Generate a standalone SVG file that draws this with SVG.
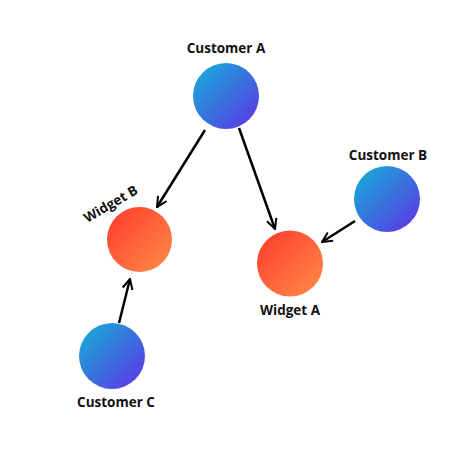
<svg xmlns="http://www.w3.org/2000/svg" width="474" height="474" viewBox="0 0 474 474">
<defs>
<linearGradient id="gBlue" x1="0" y1="0" x2="1" y2="1">
<stop offset="0" stop-color="#12b4d6"/>
<stop offset="1" stop-color="#6030e8"/>
</linearGradient>
<linearGradient id="gRed" x1="0" y1="0" x2="1" y2="1">
<stop offset="0" stop-color="#ff3a2c"/>
<stop offset="1" stop-color="#ff8c48"/>
</linearGradient>
<marker id="arr" viewBox="0 0 10 10" refX="9" refY="5" markerWidth="5" markerHeight="5" orient="auto" markerUnits="strokeWidth">
<polyline points="1,1 9,5 1,9" fill="none" stroke="#000" stroke-width="1.6" stroke-linejoin="miter" stroke-linecap="butt"/>
</marker>
<style>
.lbl{font-family:"Open Sans","Liberation Sans",sans-serif;font-weight:bold;font-size:13.5px;fill:#111;text-anchor:middle}
.edge{stroke:#000;stroke-width:2.5;fill:none;marker-end:url(#arr)}
</style>
</defs>
<rect width="474" height="474" fill="#fff"/>
<g id="connectors">
<line class="edge" x1="205" y1="130" x2="157" y2="207"/>
<line class="edge" x1="239" y1="128" x2="275" y2="229"/>
<line class="edge" x1="355" y1="221" x2="322" y2="242"/>
<line class="edge" x1="119" y1="323" x2="130" y2="279"/>
</g>
<g id="customerA">
<circle cx="226" cy="96" r="33" fill="url(#gBlue)"/>
<text class="lbl" x="226" y="53">Customer A</text>
</g>
<g id="customerB">
<circle cx="387" cy="199" r="33" fill="url(#gBlue)"/>
<text class="lbl" x="388" y="160">Customer B</text>
</g>
<g id="customerC">
<circle cx="112" cy="356" r="33" fill="url(#gBlue)"/>
<text class="lbl" x="116" y="407">Customer C</text>
</g>
<g id="widgetB">
<circle cx="139.5" cy="239.5" r="32.5" fill="url(#gRed)"/>
<text class="lbl" transform="translate(113,208) rotate(-30)">Widget B</text>
</g>
<g id="widgetA">
<circle cx="290" cy="263.5" r="33" fill="url(#gRed)"/>
<text class="lbl" x="290" y="315">Widget A</text>
</g>
</svg>
